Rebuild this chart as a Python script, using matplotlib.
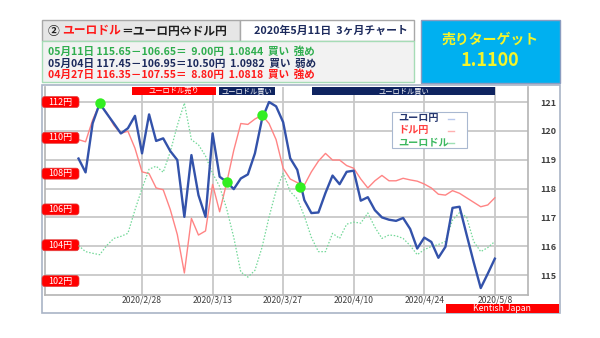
import matplotlib
matplotlib.use("Agg")
import matplotlib.pyplot as plt
import matplotlib.transforms as mtransforms
from matplotlib.patches import Rectangle, FancyBboxPatch
import numpy as np
import pandas as pd

plt.rcParams["font.family"] = ["Noto Sans CJK JP", "DejaVu Sans"]

# trading days shown on the chart
dates = pd.bdate_range("2020-02-17", "2020-05-08")
tick_dates = ["2020-02-28", "2020-03-13", "2020-03-27", "2020-04-10", "2020-04-24", "2020-05-08"]

# ユーロ円 (right axis)
eurjpy = [
    119.04, 118.56, 120.26, 120.95, 120.60, 120.26, 119.91, 120.09, 120.52, 119.22,
    120.57, 119.65, 119.74, 119.30, 118.99, 117.02, 119.16, 117.77, 117.02, 119.91,
    118.41, 118.23, 117.98, 118.35, 118.49, 119.22, 120.40, 121.00, 120.85, 120.30,
    119.05, 118.65, 117.60, 117.15, 117.17, 117.85, 118.45, 118.15, 118.58, 118.62,
    117.58, 117.70, 117.25, 117.00, 116.92, 116.88, 116.98, 116.60, 115.92, 116.30,
    116.15, 115.60, 115.98, 117.33, 117.37, 116.40, 115.45, 114.55, 115.05, 115.57,
]
# ドル円 (left axis)
usdjpy = [
    109.90, 109.78, 111.00, 111.88, 111.40, 110.70, 110.25, 110.37, 109.42, 108.10,
    108.00, 107.20, 107.10, 106.00, 104.60, 102.45, 105.50, 104.57, 104.80, 107.40,
    105.87, 107.50, 109.30, 110.80, 110.75, 111.05, 111.27, 110.80, 109.90, 108.30,
    107.70, 107.50, 107.36, 108.10, 108.70, 109.13, 108.76, 108.76, 108.45, 108.30,
    107.70, 107.20, 107.60, 107.90, 107.60, 107.60, 107.74, 107.65, 107.58, 107.42,
    107.20, 106.85, 106.80, 107.05, 106.90, 106.65, 106.40, 106.15, 106.25, 106.65,
]
# ユーロドル (hidden axis)
eurusd = [
    1.0790, 1.0760, 1.0752, 1.0745, 1.0790, 1.0825, 1.0835, 1.0850, 1.0965, 1.1070,
    1.1165, 1.1180, 1.1150, 1.1250, 1.1380, 1.1490, 1.1310, 1.1285, 1.1230, 1.1145,
    1.1080, 1.0970, 1.0830, 1.0660, 1.0635, 1.0668, 1.0780, 1.0930, 1.1060, 1.1145,
    1.1055, 1.1020, 1.0935, 1.0830, 1.0760, 1.0760, 1.0850, 1.0825, 1.0895, 1.0905,
    1.0900, 1.0950, 1.0880, 1.0825, 1.0842, 1.0838, 1.0825, 1.0790, 1.0745, 1.0770,
    1.0785, 1.0795, 1.0810, 1.0915, 1.0952, 1.0930, 1.0810, 1.0760, 1.0780, 1.0810,
]

# crossing points of ユーロ円 / ドル円 (day index, ユーロ円)
cross_idx = [4, 22, 27, 32.4]
cross_val = [120.95, 118.23, 120.55, 118.06]

# signal periods (day index start, end, label, colour)
signals = [
    (8.6, 20.5, "ユーロドル売り", "#ff0000"),
    (20.9, 28.8, "ユーロドル買い", "#0f2460"),
    (34.1, 60.0, "ユーロドル買い", "#0f2460"),
]

eurjpy_ticks = [115, 116, 117, 118, 119, 120, 121]
usdjpy_labels = [112, 110, 108, 106, 104, 102]

series_names = ["ユーロ円", "ドル円", "ユーロドル"]
name_colors = ["#24356e", "#ff4040", "#3cb860"]
sample_colors = ["#b8c8ec", "#ffb0b0", "#9ee0b4"]

rows = [
    ("05月11日 115.65－106.65＝  9.00円  1.0844  買い  強め", "#2fae4e"),
    ("05月04日 117.45－106.95＝10.50円  1.0982  買い  弱め", "#1c2a5c"),
    ("04月27日 116.35－107.55＝  8.80円  1.0818  買い  強め", "#ff1a1a"),
]

W, H = 600, 338


def fx(px):
    return px / W


def fy(py):
    return 1 - py / H


x = np.arange(1, len(dates) + 1)
tick_pos = [dates.get_loc(pd.Timestamp(d)) + 1 for d in tick_dates]
tick_lab = [f"{pd.Timestamp(d).year}/{pd.Timestamp(d).month}/{pd.Timestamp(d).day}" for d in tick_dates]

fig = plt.figure(figsize=(6, 3.38), dpi=100)
fig.patch.set_facecolor("white")

# chart frame
fig.patches.append(Rectangle((fx(42), fy(313)), fx(518), 228 / H, transform=fig.transFigure,
                             fc="white", ec="#a9b4c6", lw=1.2, zorder=-5))

ax = fig.add_axes([fx(45), fy(295), fx(483), 208 / H])
ax.set_xlim(-3.75, 64.7)
ax.set_ylim(114.31, 121.52)
ax.patch.set_alpha(0)

# ドル円
ax_r = ax.twinx()
ax_r.set_ylim(101.22, 112.84)
ax_r.set_yticks([])
ax_r.plot(x, usdjpy, color="#ff8484", lw=1.0)

# ユーロドル
ax_g = ax.twinx()
ax_g.set_ylim(1.0547, 1.1569)
ax_g.set_yticks([])
ax_g.plot(x, eurusd, color="#72d898", lw=0.9, ls=(0, (1.2, 1.4)))

# ユーロ円 on top
ax_b = ax.twinx()
ax_b.set_ylim(ax.get_ylim())
ax_b.set_yticks([])
ax_b.plot(x, eurjpy, color="#3352aa", lw=1.7)
ax_b.plot(cross_idx, cross_val, "o", color="#33ee22", ms=7.5, mec="none", zorder=5)

for a in (ax_r, ax_g, ax_b):
    for s in a.spines.values():
        s.set_visible(False)

# right-hand scale and grid (set after twinx, which moves ticks to the left)
ax.yaxis.tick_right()
ax.set_yticks(eurjpy_ticks)
ax.set_yticklabels([str(t) for t in eurjpy_ticks], fontsize=6.5, color="#404040", fontweight="bold")
ax.tick_params(axis="y", length=0, pad=9)
ax.set_xticks(tick_pos)
ax.set_xticklabels(tick_lab, fontsize=6.2, color="#404040")
ax.tick_params(axis="x", length=0, pad=0)
ax.grid(True, color="#c8c8c8", lw=1.3)
for s in ["left", "right", "bottom"]:
    ax.spines[s].set_color("#b4b4b4")
    ax.spines[s].set_linewidth(1.2)
ax.spines["top"].set_visible(False)

# signal bars along the top
top_tr = mtransforms.blended_transform_factory(ax_b.transData, ax_b.transAxes)
for x0, x1, lab, col in signals:
    ax_b.add_patch(Rectangle((x0, 1 - 8 / 208), x1 - x0, 8 / 208, transform=top_tr,
                             fc=col, ec="none", clip_on=False, zorder=6))
    ax_b.text((x0 + x1) / 2, 1 - 4 / 208, lab, transform=top_tr, ha="center", va="center",
              fontsize=5.2, color="white", zorder=7)

# yen labels on the left
left_tr = mtransforms.blended_transform_factory(ax_r.transAxes, ax_r.transData)
for v in usdjpy_labels:
    ax_r.add_patch(FancyBboxPatch((-3 / 483, v - 5.5 / 17.9), 37 / 483, 11 / 17.9,
                                  boxstyle="round,pad=0,rounding_size=0.006",
                                  mutation_aspect=483 / 17.9, transform=left_tr,
                                  fc="#ff0000", ec="#e04040", lw=0.5, clip_on=False, zorder=6))
    ax_r.text(15.5 / 483, v, f"{v}円", transform=left_tr, ha="center", va="center",
              fontsize=6.5, color="white", zorder=7)

# legend box: names on the left, line samples on the right
ax_b.add_patch(Rectangle((347 / 483, 147 / 208), 75 / 483, 36 / 208, transform=ax_b.transAxes,
                         fc="white", ec="#a9b8d0", lw=0.8, zorder=8))
for i, (name, nc, sc) in enumerate(zip(series_names, name_colors, sample_colors)):
    yy = (295 - 118.5 - 12 * i) / 208
    ax_b.text(353 / 483, yy, name, transform=ax_b.transAxes, ha="left", va="center",
              fontsize=7.3, fontweight="bold", color=nc, zorder=9)
    ax_b.plot([403 / 483, 409 / 483], [yy, yy], transform=ax_b.transAxes, color=sc,
              lw=1, zorder=9, clip_on=False)


# header boxes
def box(x0, y0, x1, y1, fc, ec):
    fig.patches.append(Rectangle((fx(x0), fy(y1)), fx(x1 - x0), (y1 - y0) / H,
                                 transform=fig.transFigure, fc=fc, ec=ec, lw=1))


box(42, 20, 240, 41, "#e6e6e6", "#a8a8a8")
box(240, 20, 414, 41, "white", "#a8a8a8")
box(42, 41, 414, 82, "#f2f2f2", "#a6dcb6")
box(421, 20, 560, 83, "#00b0f0", "#8a9cc0")

# title in pieces of different colour
renderer = fig.canvas.get_renderer()
cur = fx(48)
for part, col in [("② ", "#202020"), ("ユーロドル", "#ff1a1a"), ("＝ユーロ円⇔ドル円", "#202020")]:
    t = fig.text(cur, fy(31), part, fontsize=8.5, fontweight="bold", color=col, va="center", ha="left")
    bb = t.get_window_extent(renderer)
    cur += bb.width / fig.bbox.width

fig.text(fx(331), fy(31), "2020年5月11日  3ヶ月チャート", fontsize=7.8, fontweight="bold",
         color="#1c2a5c", ha="center", va="center")

for i, (txt, col) in enumerate(rows):
    fig.text(fx(48), fy(52 + 11.5 * i), txt, fontsize=7.6, fontweight="bold", color=col,
             ha="left", va="center")

fig.text(fx(490), fy(40), "売りターゲット", fontsize=10, fontweight="bold", color="#f4f42a",
         ha="center", va="center")
fig.text(fx(490), fy(61), "1.1100", fontsize=13, fontweight="bold", color="#f4f42a",
         ha="center", va="center")

# footer tag
box(446, 304, 559, 313, "#ff0000", "none")
fig.text(fx(502), fy(308.5), "Kentish Japan", fontsize=6.3, color="white", ha="center", va="center")

fig.savefig("out.png", dpi=100)
